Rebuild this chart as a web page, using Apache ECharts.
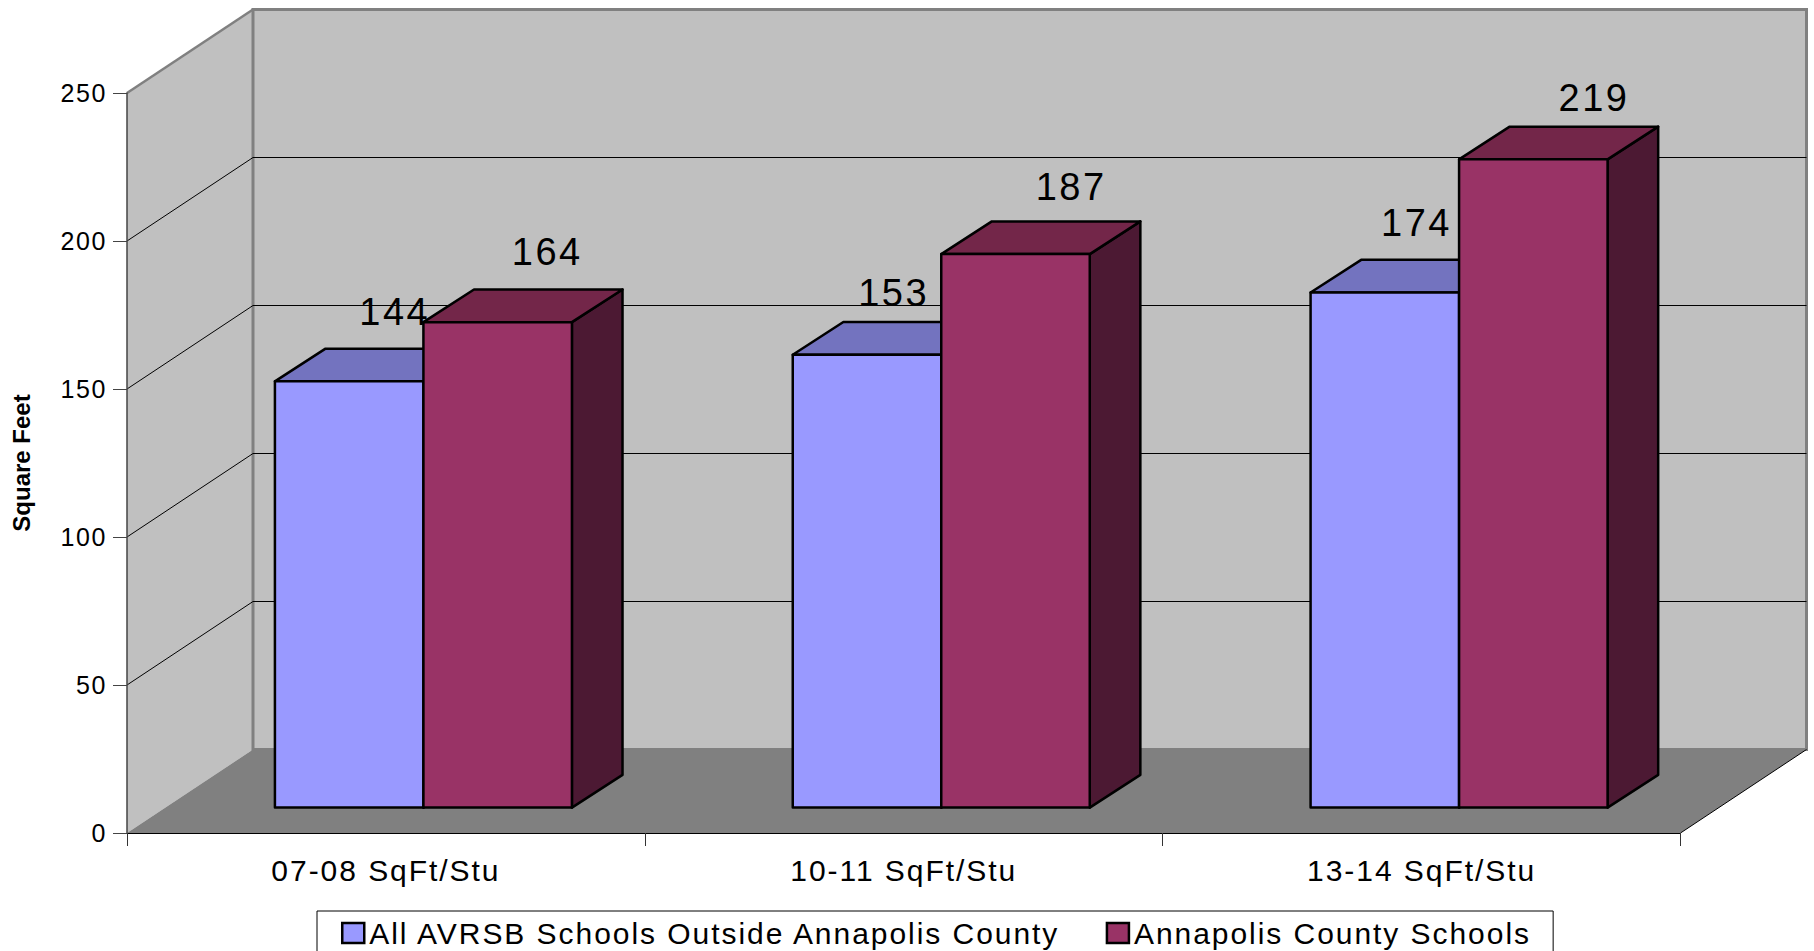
<!DOCTYPE html>
<html>
<head>
<meta charset="utf-8">
<title>Square Feet per Student</title>
<script src="https://cdn.jsdelivr.net/npm/echarts@6/dist/echarts.min.js"></script>
<style>
    html, body { margin: 0; background: #fff; }
    #chart { width: 1814px; height: 951px; }
    #chart text { letter-spacing: .065em; }
    #chart text[style*="bold"] { letter-spacing: 0; }
</style>
</head>
<body>
<div id="chart"></div>
<script>
document.addEventListener('DOMContentLoaded', function() {

    const categories = ['07-08 SqFt/Stu', '10-11 SqFt/Stu', '13-14 SqFt/Stu'];
    const outsideName = 'All AVRSB Schools Outside Annapolis County';
    const annapolisName = 'Annapolis County Schools';
    const outsideValues = [144, 153, 174];
    const annapolisValues = [164, 187, 219];
    const gridValues = [50, 100, 150, 200];

    // the value labels sit unevenly above the bars in the original
    const outsideLabelShift = [[-5, -37], [-24, -29], [-19, -37]];
    const annapolisLabelShift = [[-1, -37], [5, -34], [10, -29]];

    const outsideColors = {front: '#9999ff', top: '#7373bf', side: '#4c4c7f'};
    const annapolisColors = {front: '#993366', top: '#732649', side: '#4c1933'};

    // Fake 3D: how far the back wall and the boxes sit from the front plane
    const WALL_DEPTH = [126, -83.5];
    const BAR_OFFSET = [37.5, -25.4];
    const BAR_DEPTH = [50.6, -32.7];
    const BAR_WIDTH = 148.5;

    const shift = (p, d) => [p[0] + d[0], p[1] + d[1]];
    const poly = (points, style) => ({type: 'polygon', shape: {points: points}, style: style});
    const line = (a, b, stroke, width) => ({
        type: 'line',
        shape: {x1: a[0], y1: a[1], x2: b[0], y2: b[1]},
        style: {stroke: stroke, lineWidth: width}
    });

    // front plane corners at a given value
    const plane = (api, value) => {
        const half = api.size([1, 0])[0] / 2;
        const left = api.coord([0, value]);
        const right = api.coord([categories.length - 1, value]);
        return [[left[0] - half, left[1]], [right[0] + half, right[1]]];
    };

    const renderWalls = (params, api) => {
        const [lb, rb] = plane(api, 0);
        const [lt] = plane(api, 250);
        const backLb = shift(lb, WALL_DEPTH);
        const backRb = shift(rb, WALL_DEPTH);
        const backLt = shift(lt, WALL_DEPTH);
        const backRt = [backRb[0], backLt[1]];
        return {
            type: 'group',
            children: [
                poly([lt, backLt, backLb, lb], {fill: '#c0c0c0'}),
                poly([backLt, backRt, backRb, backLb], {fill: '#c0c0c0', stroke: '#808080', lineWidth: 3}),
                poly([lb, rb, backRb, backLb], {fill: '#808080'}),
                line(lt, backLt, '#808080', 2.5),
                line(rb, backRb, '#000', 1)
            ]
        };
    };

    const renderGridLine = (params, api) => {
        const [left, right] = plane(api, api.value(0));
        const backLeft = shift(left, WALL_DEPTH);
        const backRight = shift(right, WALL_DEPTH);
        return {
            type: 'group',
            children: [
                line(left, backLeft, '#000', 1),
                line(backLeft, backRight, '#000', 1)
            ]
        };
    };

    const barRenderer = (colors, leftOfJoint) => (params, api) => {
        const i = api.value(0);
        const value = api.value(1);
        const base = shift(api.coord([i, 0]), BAR_OFFSET);
        const top = shift(api.coord([i, value]), BAR_OFFSET);
        const x0 = leftOfJoint ? base[0] - BAR_WIDTH : base[0];
        const x1 = x0 + BAR_WIDTH;
        const edge = {stroke: '#000', lineWidth: 2.5, lineJoin: 'round'};
        const tl = [x0, top[1]];
        const tr = [x1, top[1]];
        const br = [x1, base[1]];
        return {
            type: 'group',
            children: [
                poly([tr, shift(tr, BAR_DEPTH), shift(br, BAR_DEPTH), br], {fill: colors.side, ...edge}),
                poly([tl, shift(tl, BAR_DEPTH), shift(tr, BAR_DEPTH), tr], {fill: colors.top, ...edge}),
                {
                    type: 'rect',
                    shape: {x: x0, y: top[1], width: BAR_WIDTH, height: base[1] - top[1]},
                    style: {fill: colors.front, ...edge}
                }
            ]
        };
    };

    // labels go in their own series so no bar can cover them
    const labelRenderer = (leftOfJoint, labelShift) => (params, api) => {
        const i = api.value(0);
        const top = shift(api.coord([i, api.value(1)]), BAR_OFFSET);
        const cx = top[0] + (leftOfJoint ? -BAR_WIDTH / 2 : BAR_WIDTH / 2);
        const at = shift(shift([cx, top[1]], BAR_DEPTH), labelShift[i]);
        return {
            type: 'text',
            x: at[0],
            y: at[1],
            style: {
                text: String(api.value(1)),
                fill: '#000',
                font: '38px "Liberation Sans"',
                textAlign: 'center',
                textVerticalAlign: 'middle'
            }
        };
    };

    const points = (values) => values.map((v, i) => [i, v]);

    const chart = echarts.init(document.getElementById('chart'), null, {renderer: 'svg'});

    chart.setOption({
        animation: false,
        backgroundColor: '#fff',
        grid: {left: 127, right: 133.5, top: 93, height: 740},
        legend: {
            left: 317,
            top: 911,
            padding: [7, 69, 24, 24],
            itemWidth: 22,
            itemHeight: 20,
            itemGap: 125,
            selectedMode: false,
            backgroundColor: '#fff',
            borderColor: '#000',
            borderWidth: 1,
            borderRadius: 0,
            icon: 'rect',
            itemStyle: {borderColor: '#000', borderWidth: 2.5},
            textStyle: {color: '#000', fontFamily: 'Liberation Sans', fontSize: 30},
            data: [outsideName, annapolisName]
        },
        xAxis: {
            type: 'category',
            data: categories,
            z: 5,
            axisLine: {lineStyle: {color: '#000', width: 1}},
            axisTick: {show: true, length: 13, lineStyle: {color: '#333'}},
            axisLabel: {color: '#000', fontFamily: 'Liberation Sans', fontSize: 30, margin: 22, interval: 0}
        },
        yAxis: {
            type: 'value',
            min: 0,
            max: 250,
            interval: 50,
            z: 5,
            name: 'Square Feet',
            nameLocation: 'middle',
            nameGap: 94,
            nameTextStyle: {color: '#000', fontFamily: 'Liberation Sans', fontSize: 24, fontWeight: 'bold'},
            splitLine: {show: false},
            axisLine: {show: true, lineStyle: {color: '#444', width: 1.5}},
            axisTick: {show: true, length: 14, lineStyle: {color: '#444'}},
            axisLabel: {color: '#000', fontFamily: 'Liberation Sans', fontSize: 25, margin: 20}
        },
        series: [
            {type: 'custom', silent: true, renderItem: renderWalls, data: [[0]], encode: {x: 0}},
            {type: 'custom', silent: true, renderItem: renderGridLine, data: gridValues.map((v) => [v]), encode: {y: 0}},
            {
                type: 'custom',
                name: outsideName,
                silent: true,
                itemStyle: {color: outsideColors.front},
                renderItem: barRenderer(outsideColors, true),
                data: points(outsideValues),
                encode: {x: 0, y: 1}
            },
            {
                type: 'custom',
                name: annapolisName,
                silent: true,
                itemStyle: {color: annapolisColors.front},
                renderItem: barRenderer(annapolisColors, false),
                data: points(annapolisValues),
                encode: {x: 0, y: 1}
            },
            {type: 'custom', silent: true, renderItem: labelRenderer(true, outsideLabelShift), data: points(outsideValues), encode: {x: 0, y: 1}},
            {type: 'custom', silent: true, renderItem: labelRenderer(false, annapolisLabelShift), data: points(annapolisValues), encode: {x: 0, y: 1}}
        ]
    });

});
</script>
</body>
</html>
